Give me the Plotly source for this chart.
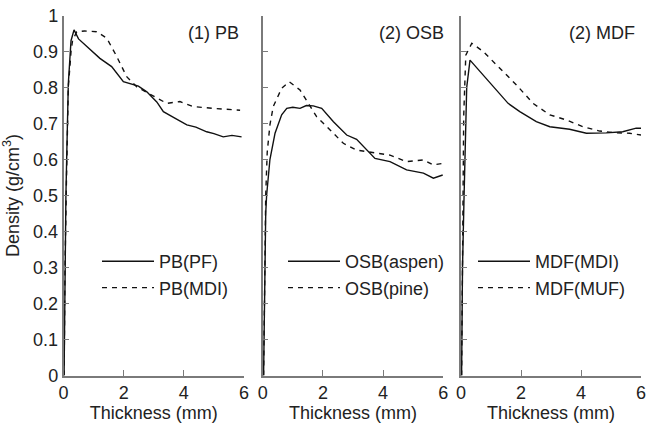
import plotly.graph_objects as go

# ---- data ----
pb_pf_x = [0.02, 0.05, 0.08, 0.11, 0.16, 0.25, 0.35, 0.5, 0.83, 1.21, 1.6, 1.99, 2.49, 2.77, 3.1, 3.32, 3.7, 4.1, 4.4, 4.76, 5.0, 5.31, 5.6, 5.92]
pb_pf_y = [0.0, 0.3, 0.5, 0.62, 0.81, 0.93, 0.96, 0.935, 0.909, 0.881, 0.858, 0.816, 0.804, 0.788, 0.76, 0.733, 0.715, 0.696, 0.69, 0.677, 0.672, 0.663, 0.667, 0.663]
pb_mdi_x = [0.02, 0.05, 0.1, 0.16, 0.25, 0.3, 0.44, 0.7, 1.1, 1.44, 1.77, 2.1, 2.43, 2.8, 3.1, 3.43, 3.87, 4.31, 4.98, 5.87]
pb_mdi_y = [0.0, 0.3, 0.55, 0.8, 0.9, 0.93, 0.955, 0.957, 0.955, 0.937, 0.886, 0.83, 0.802, 0.785, 0.77, 0.756, 0.761, 0.747, 0.742, 0.737]

osb_aspen_x = [0.03, 0.06, 0.1, 0.13, 0.24, 0.41, 0.63, 0.8, 1.0, 1.24, 1.45, 1.68, 1.96, 2.35, 2.79, 3.12, 3.4, 3.73, 4.23, 4.78, 5.34, 5.67, 5.98]
osb_aspen_y = [0.0, 0.3, 0.45, 0.5, 0.6, 0.673, 0.724, 0.742, 0.745, 0.742, 0.75, 0.749, 0.742, 0.705, 0.668, 0.656, 0.631, 0.603, 0.594, 0.571, 0.562, 0.548, 0.557]
osb_pine_x = [0.03, 0.06, 0.1, 0.15, 0.24, 0.35, 0.63, 0.88, 1.24, 1.52, 1.79, 2.24, 2.68, 3.12, 3.67, 4.23, 4.78, 5.34, 5.67, 5.98]
osb_pine_y = [0.0, 0.3, 0.5, 0.62, 0.696, 0.747, 0.798, 0.816, 0.793, 0.756, 0.719, 0.682, 0.645, 0.626, 0.619, 0.612, 0.594, 0.599, 0.585, 0.589]

mdf_mdi_x = [0.02, 0.05, 0.1, 0.15, 0.19, 0.3, 0.74, 1.19, 1.57, 1.96, 2.51, 2.96, 3.62, 4.18, 4.84, 5.39, 5.84, 6.0]
mdf_mdi_y = [0.0, 0.3, 0.49, 0.68, 0.8, 0.876, 0.835, 0.793, 0.756, 0.733, 0.705, 0.691, 0.684, 0.673, 0.674, 0.677, 0.687, 0.687]
mdf_muf_x = [0.02, 0.04, 0.07, 0.09, 0.16, 0.36, 0.74, 1.3, 1.85, 2.4, 2.96, 3.51, 4.07, 4.62, 5.18, 5.62, 6.0]
mdf_muf_y = [0.0, 0.3, 0.6, 0.72, 0.89, 0.923, 0.9, 0.853, 0.807, 0.756, 0.724, 0.71, 0.691, 0.679, 0.674, 0.673, 0.668]

panel_titles = ["(1) PB", "(2) OSB", "(2) MDF"]
x_ticks = [0, 2, 4, 6]
y_ticks = [0, 0.1, 0.2, 0.3, 0.4, 0.5, 0.6, 0.7, 0.8, 0.9, 1]

W, H = 647, 423
FONT = "Liberation Sans, Arial, sans-serif"
TXT = "#222222"
AX = "#7a7a7a"
FS = 18

def px_x(p):
    return p / W

def px_y(p):
    return 1 - p / H

x_domains = [[px_x(63.5), px_x(244)], [px_x(262.7), px_x(443.3)], [px_x(461), px_x(641)]]
y_domain = [px_y(375.5), px_y(15.5)]

fig = go.Figure()

series = [
    (pb_pf_x, pb_pf_y, "PB(PF)", "solid", 1),
    (pb_mdi_x, pb_mdi_y, "PB(MDI)", "dash", 1),
    (osb_aspen_x, osb_aspen_y, "OSB(aspen)", "solid", 2),
    (osb_pine_x, osb_pine_y, "OSB(pine)", "dash", 2),
    (mdf_mdi_x, mdf_mdi_y, "MDF(MDI)", "solid", 3),
    (mdf_muf_x, mdf_muf_y, "MDF(MUF)", "dash", 3),
]
for xs, ys, name, dash, k in series:
    suf = "" if k == 1 else str(k)
    fig.add_trace(go.Scatter(
        x=xs, y=ys, mode="lines", name=name,
        line=dict(color="#111111", width=1.4, dash=("5px,5px" if dash == "dash" else "solid")),
        xaxis="x" + suf, yaxis="y" + suf,
        legend="legend" + suf,
    ))

layout = dict(
    width=W, height=H,
    margin=dict(l=0, r=0, t=0, b=0),
    paper_bgcolor="white", plot_bgcolor="white",
    font=dict(family=FONT, size=FS, color=TXT),
    showlegend=True,
)

for k in range(1, 4):
    suf = "" if k == 1 else str(k)
    layout["xaxis" + suf] = dict(
        domain=x_domains[k - 1], range=[0, 6], anchor="y" + suf,
        tickvals=x_ticks, ticks="inside", ticklen=6, tickcolor=AX, tickwidth=1.2,
        showline=True, linecolor=AX, linewidth=1.5, showgrid=False, zeroline=False,
        title=dict(text="Thickness (mm)", standoff=0, font=dict(size=FS)),
        automargin=False, tickfont=dict(size=FS),
    )
    layout["yaxis" + suf] = dict(
        domain=y_domain, range=[0, 1], anchor="x" + suf,
        tickvals=y_ticks, ticks="inside", ticklen=6, tickcolor=AX, tickwidth=1.2,
        showline=True, linecolor=AX, linewidth=1.5, showgrid=False, zeroline=False,
        showticklabels=(k == 1), automargin=False, tickfont=dict(size=FS),
    )
    layout["legend" + suf] = dict(
        x=[px_x(97), px_x(283), px_x(473)][k - 1], y=px_y(243),
        xanchor="left", yanchor="top",
        bgcolor="rgba(0,0,0,0)", font=dict(size=FS, color=TXT),
        itemwidth=52, tracegroupgap=0,
    )

layout["yaxis"]["title"] = dict(text="Density (g/cm<sup>3</sup>)", standoff=9, font=dict(size=FS))

fig.update_layout(**layout)

title_x = [px_x(241), px_x(446), px_x(637)]
for i, t in enumerate(panel_titles):
    fig.add_annotation(text=t, x=title_x[i], y=px_y(33), xref="paper", yref="paper",
                       xanchor="right", yanchor="middle", showarrow=False,
                       font=dict(size=FS, color=TXT, family=FONT))

fig.write_html("out.html", config={"displayModeBar": False},
               post_script="document.body.style.margin='0';document.body.style.overflow='hidden';")
